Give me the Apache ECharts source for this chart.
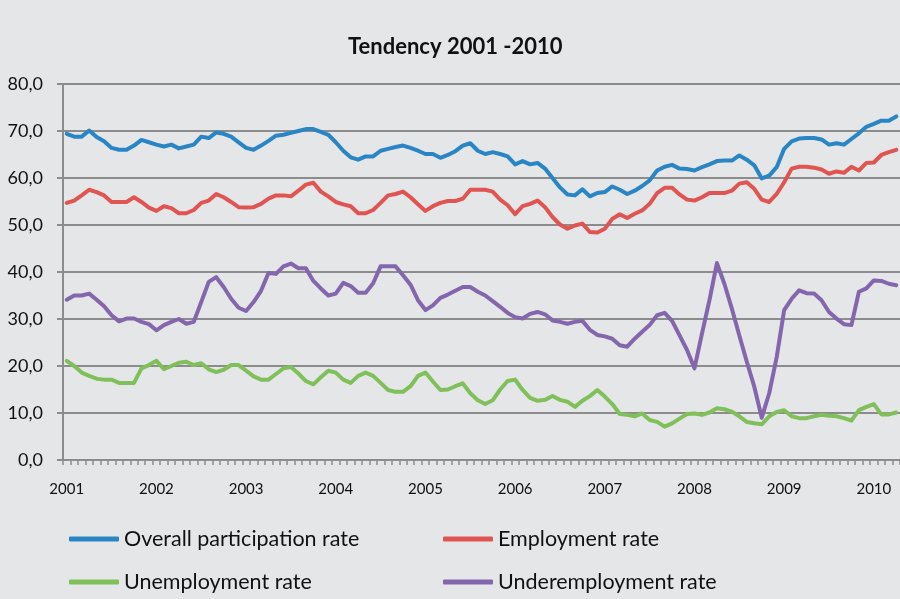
<!DOCTYPE html>
<html>
<head>
<meta charset="utf-8">
<script src="https://cdn.jsdelivr.net/npm/echarts@6/dist/echarts.min.js"></script>
<style>
  html, body { margin: 0; padding: 0; background: #e5e6e8; }
  #chart { width: 900px; height: 599px; }
</style>
</head>
<body>
<div id="chart"></div>
<script>
// year labels shown under the axis (one every 12 months)
const years = ['2001', '2002', '2003', '2004', '2005', '2006', '2007', '2008', '2009', '2010'];

// monthly values, Jan 2001 onwards
const participation = [
  69.4, 68.8, 68.8, 70.1, 68.7, 67.8, 66.4, 66.0, 66.0, 66.9, 68.1, 67.6,
  67.1, 66.7, 67.1, 66.3, 66.7, 67.1, 68.8, 68.5, 69.7, 69.4, 68.8, 67.6,
  66.4, 66.0, 66.9, 67.9, 69.0, 69.2, 69.6, 70.0, 70.4, 70.4, 69.8, 69.2,
  67.6, 65.8, 64.4, 63.9, 64.6, 64.6, 65.8, 66.2, 66.6, 66.9, 66.4, 65.8,
  65.1, 65.1, 64.3, 64.9, 65.7, 66.9, 67.4, 65.8, 65.1, 65.5, 65.1, 64.6,
  62.9, 63.6, 62.9, 63.2, 62.0, 60.0, 58.0, 56.5, 56.3, 57.6, 56.1, 56.8,
  57.0, 58.2, 57.5, 56.6, 57.3, 58.3, 59.5, 61.6, 62.4, 62.8, 62.0, 61.9,
  61.6, 62.3, 62.9, 63.6, 63.7, 63.7, 64.8, 63.9, 62.7, 59.9, 60.5, 62.3,
  66.2, 67.8, 68.4, 68.5, 68.5, 68.2, 67.1, 67.4, 67.1, 68.3, 69.5, 70.9,
  71.5, 72.2, 72.2, 73.1
];
const employment = [
  54.7, 55.2, 56.3, 57.5, 57.0, 56.3, 54.9, 54.9, 54.9, 55.9, 54.9, 53.7,
  53.0, 54.0, 53.6, 52.5, 52.5, 53.2, 54.7, 55.2, 56.6, 55.9, 54.9, 53.8,
  53.7, 53.8, 54.5, 55.6, 56.3, 56.3, 56.1, 57.3, 58.6, 59.0, 57.1, 56.1,
  54.9, 54.4, 54.0, 52.5, 52.5, 53.2, 54.7, 56.3, 56.6, 57.1, 55.9, 54.4,
  53.0, 54.0, 54.7, 55.1, 55.1, 55.6, 57.5, 57.5, 57.5, 57.1, 55.4, 54.2,
  52.3, 54.0, 54.5, 55.2, 53.8, 51.7, 50.1, 49.2, 49.9, 50.3, 48.5, 48.4,
  49.2, 51.3, 52.3, 51.5, 52.4, 53.1, 54.5, 56.8, 57.9, 57.9, 56.5, 55.4,
  55.2, 55.9, 56.8, 56.8, 56.8, 57.3, 58.8, 59.1, 57.7, 55.4, 54.9, 56.6,
  59.1, 62.0, 62.4, 62.4, 62.2, 61.8, 60.9, 61.4, 61.1, 62.4, 61.6, 63.2,
  63.3, 64.9, 65.5, 66.0
];
const unemployment = [
  21.1, 20.0, 18.6, 17.9, 17.3, 17.1, 17.1, 16.4, 16.4, 16.4, 19.5, 20.2,
  21.1, 19.3, 20.0, 20.7, 20.9, 20.2, 20.6, 19.3, 18.7, 19.2, 20.2, 20.2,
  19.0, 17.8, 17.1, 17.1, 18.3, 19.5, 19.8, 18.4, 16.8, 16.1, 17.6, 19.0,
  18.6, 17.1, 16.4, 17.9, 18.6, 17.9, 16.4, 14.9, 14.5, 14.5, 15.7, 17.9,
  18.6, 16.7, 14.9, 15.0, 15.7, 16.3, 14.2, 12.7, 11.9, 12.7, 15.0, 16.8,
  17.1, 14.9, 13.2, 12.6, 12.8, 13.6, 12.8, 12.4, 11.3, 12.6, 13.6, 14.9,
  13.5, 11.9, 9.8, 9.6, 9.3, 9.9, 8.5, 8.1, 7.1, 7.8, 8.8, 9.8,
  9.9, 9.6, 10.1, 11.0, 10.8, 10.3, 9.3, 8.1, 7.8, 7.6, 9.3, 10.2,
  10.6, 9.3, 8.9, 8.9, 9.3, 9.6, 9.4, 9.3, 8.9, 8.4, 10.6, 11.3,
  11.9, 9.7, 9.7, 10.1
];
const underemployment = [
  34.1, 35.0, 35.0, 35.4, 34.1, 32.7, 30.8, 29.5, 30.1, 30.1, 29.4, 28.9,
  27.6, 28.7, 29.4, 30.0, 29.0, 29.4, 33.6, 37.9, 38.9, 36.8, 34.3, 32.4,
  31.7, 33.6, 36.0, 39.8, 39.6, 41.2, 41.8, 40.8, 40.8, 38.1, 36.5, 35.0,
  35.4, 37.7, 37.0, 35.6, 35.6, 37.6, 41.2, 41.2, 41.2, 39.3, 37.3, 34.0,
  31.9, 32.9, 34.5, 35.2, 36.0, 36.8, 36.8, 35.8, 35.0, 33.8, 32.6, 31.3,
  30.4, 30.1, 31.1, 31.5, 31.0, 29.7, 29.4, 29.0, 29.4, 29.6, 27.7, 26.6,
  26.3, 25.8, 24.4, 24.1, 25.8, 27.3, 28.7, 30.8, 31.3, 29.6, 26.5, 23.4,
  19.5, 26.9, 34.0, 41.9, 37.5, 32.2, 26.5, 20.9, 15.6, 9.0, 14.2, 21.9,
  31.9, 34.3, 36.1, 35.5, 35.4, 34.0, 31.5, 30.1, 28.9, 28.7, 35.8, 36.5,
  38.2, 38.1, 37.5, 37.2
];

const seriesNames = ['Overall participation rate', 'Employment rate', 'Unemployment rate', 'Underemployment rate'];
const colors = ['#2a85c4', '#e05552', '#80c05a', '#8466ad'];

// one category per month
const categories = [];
years.forEach(y => {
  for (let m = 1; m <= 12; m++) {
    if (categories.length < participation.length) categories.push(y + '-' + m);
  }
});

const font = 'Lato, "Open Sans", sans-serif';
const gridColor = '#8c8c8c';

const chart = echarts.init(document.getElementById('chart'));

const lineSeries = (name, data, color) => ({
  name: name,
  type: 'line',
  data: data,
  color: color,
  symbol: 'none',
  lineStyle: { width: 4, color: color, cap: 'round', join: 'round' },
  animation: false
});

const legendAt = (name, left, top) => ({
  data: [name],
  left: left,
  top: top,
  padding: 0,
  icon: 'roundRect',
  itemWidth: 50,
  itemHeight: 5,
  selectedMode: false,
  textStyle: { fontFamily: font, fontSize: 21.5, color: '#111', lineHeight: 26 }
});

chart.setOption({
  backgroundColor: '#e5e6e8',
  title: {
    text: 'Tendency 2001 -2010',
    left: 343,
    top: 31,
    textStyle: { fontFamily: font, fontSize: 22, fontWeight: 'bold', color: '#111' }
  },
  legend: [
    legendAt(seriesNames[0], 69, 526),
    legendAt(seriesNames[1], 443, 526),
    legendAt(seriesNames[2], 69, 569),
    legendAt(seriesNames[3], 443, 569)
  ],
  grid: {
    left: 63,
    top: 84,
    width: 840,
    height: 376,
    containLabel: false
  },
  xAxis: {
    type: 'category',
    data: categories,
    boundaryGap: true,
    axisLine: { lineStyle: { color: gridColor, width: 2 } },
    axisTick: { show: true, interval: 0, length: 5, lineStyle: { color: gridColor, width: 1.5 } },
    axisLabel: {
      interval: 11,
      margin: 22,
      fontFamily: font,
      fontSize: 15,
      color: '#111',
      formatter: v => v.split('-')[0]
    },
    splitLine: { show: false }
  },
  yAxis: {
    type: 'value',
    min: 0,
    max: 80,
    interval: 10,
    axisLine: { show: true, lineStyle: { color: gridColor, width: 2 } },
    axisTick: { show: true, length: 6, lineStyle: { color: gridColor, width: 2 } },
    axisLabel: {
      margin: 20,
      fontFamily: font,
      fontSize: 18,
      color: '#111',
      formatter: v => v.toFixed(1).replace('.', ',')
    },
    splitLine: { lineStyle: { color: gridColor, width: 2 } }
  },
  series: [
    lineSeries(seriesNames[0], participation, colors[0]),
    lineSeries(seriesNames[1], employment, colors[1]),
    lineSeries(seriesNames[2], unemployment, colors[2]),
    lineSeries(seriesNames[3], underemployment, colors[3])
  ]
});
</script>
</body>
</html>
